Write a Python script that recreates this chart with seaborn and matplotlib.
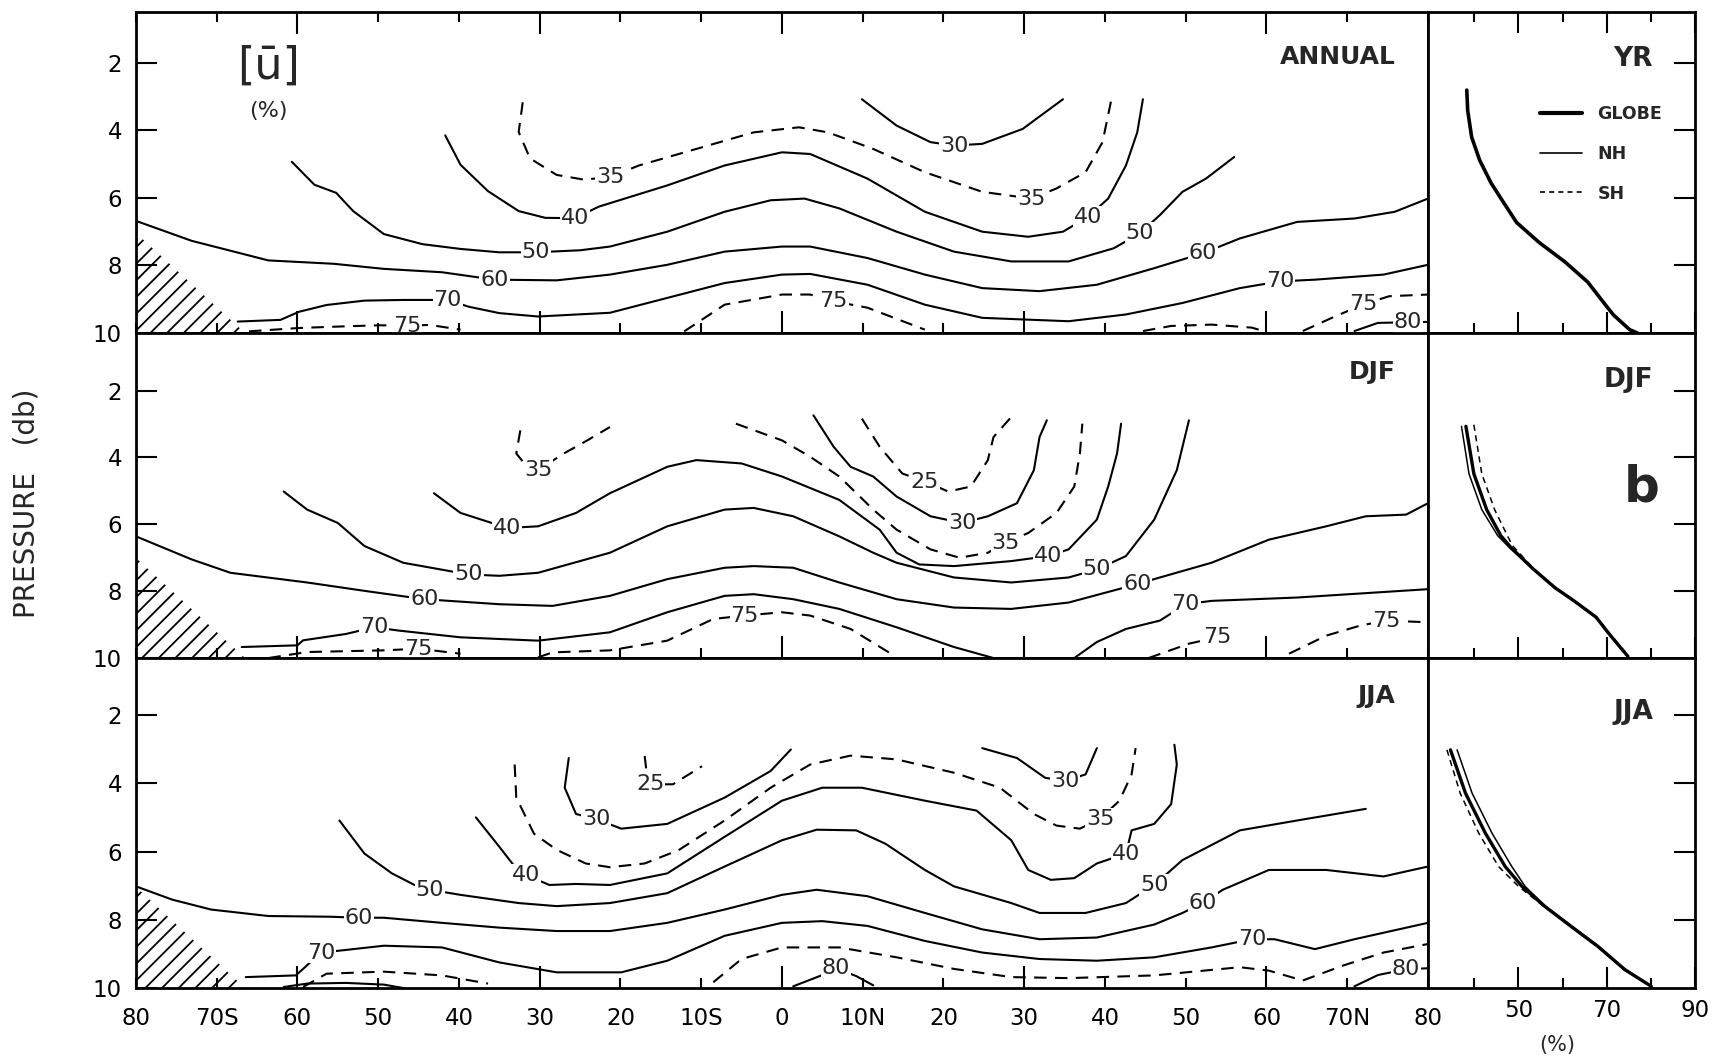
import matplotlib
matplotlib.use("Agg")
import matplotlib.pyplot as plt
from matplotlib.lines import Line2D
import seaborn as sns

# ---------------- DATA ----------------
LAT_MAJOR = [-60, -30, 0, 30, 60]
LAT_MAJOR_LABELS = ["60", "30", "0", "30", "60"]
LAT_MINOR = [-80, -70, -50, -40, -20, -10, 10, 20, 40, 50, 70, 80]
LAT_MINOR_LABELS = ["80", "70S", "50", "40", "20", "10S", "10N", "20", "40", "50", "70N", "80"]
P_TICKS = [2, 4, 6, 8, 10]
P_TICK_LABELS = ["2", "4", "6", "8", "10"]
PCT_MAJOR = [50, 70, 90]
PCT_MAJOR_LABELS = ["50", "70", "90"]
PCT_MINOR = [40, 60, 80]
PANEL_NAMES = ["ANNUAL", "DJF", "JJA"]
PROFILE_NAMES = ["YR", "DJF", "JJA"]

# no-data (ground) triangle
HATCH_LAT = [-80, -80, -66.5]
HATCH_P = [[7.05, 10, 10], [7.02, 10, 10], [7.05, 10, 10]]

# ---- ANNUAL contours ----
ANN_30_LAT = [9.9, 14.2, 18.4, 21.3, 24.8, 29.8, 34.8]
ANN_30_P = [3.08, 3.86, 4.35, 4.45, 4.40, 3.96, 3.08]
ANN_35_LAT = [-32.1, -32.6, -31.2, -27.9, -24.5, -21.3, -17.7, -10.6, -3.5, 2.1, 5.7, 11.3, 17.7, 24.8, 30.9, 34.0, 37.6, 39.7, 40.8]
ANN_35_P = [3.17, 4.05, 4.83, 5.32, 5.46, 5.38, 5.04, 4.55, 4.06, 3.91, 4.06, 4.55, 5.24, 5.82, 6.02, 5.72, 5.24, 4.35, 3.08]
ANN_40_LAT = [-41.7, -39.8, -36.4, -32.6, -29.3, -25.6, -22.7, -14.2, -7.1, 0, 3.5, 10.6, 17.7, 24.8, 30.5, 34.8, 37.9, 40.4, 42.6, 44.0, 44.7]
ANN_40_P = [4.15, 5.02, 5.80, 6.39, 6.59, 6.60, 6.26, 5.63, 5.04, 4.65, 4.70, 5.43, 6.41, 7.00, 7.15, 7.00, 6.56, 6.02, 5.04, 4.06, 3.08]
ANN_50_LAT = [-60.7, -57.9, -55.2, -53.1, -49.3, -44.5, -39.8, -35.0, -30.5, -25.0, -21.3, -14.2, -7.1, -1.4, 2.8, 7.1, 14.2, 21.3, 28.4, 35.5, 41.1, 44.3, 46.8, 49.6, 52.5, 56.0]
ANN_50_P = [4.93, 5.61, 5.85, 6.39, 7.07, 7.37, 7.51, 7.61, 7.61, 7.55, 7.44, 7.00, 6.41, 6.07, 6.02, 6.31, 7.00, 7.59, 7.88, 7.88, 7.49, 7.05, 6.51, 5.82, 5.43, 4.79]
ANN_60_LAT = [-80, -73.1, -63.6, -55.5, -49.3, -42.1, -35.6, -27.9, -21.3, -14.2, -7.1, 0, 3.5, 10.6, 17.7, 24.8, 31.9, 39.0, 46.1, 52.1, 56.7, 63.8, 70.9, 75.9, 80]
ANN_60_P = [6.68, 7.27, 7.85, 7.95, 8.10, 8.20, 8.42, 8.44, 8.27, 7.98, 7.59, 7.44, 7.44, 7.78, 8.27, 8.67, 8.76, 8.57, 8.08, 7.64, 7.20, 6.71, 6.61, 6.41, 6.02]
ANN_70_LAT = [-67.4, -62.1, -59.8, -56.4, -51.7, -46.9, -41.4, -38.8, -35.0, -30.2, -21.3, -14.2, -7.1, 0, 3.5, 10.6, 17.7, 24.8, 30.1, 35.5, 42.6, 49.6, 56.7, 61.7, 66.0, 74.5, 80]
ANN_70_P = [9.66, 9.61, 9.37, 9.17, 9.04, 9.02, 9.02, 9.22, 9.41, 9.51, 9.40, 8.96, 8.52, 8.27, 8.25, 8.57, 9.16, 9.55, 9.60, 9.65, 9.45, 9.11, 8.67, 8.47, 8.42, 8.27, 7.98]
ANN_75A_LAT = [-66.0, -59.8, -54.0, -49.8, -46.4, -43.6, -39.8]
ANN_75A_P = [9.95, 9.85, 9.80, 9.77, 9.78, 9.76, 9.90]
ANN_75B_LAT = [-12.1, -7.1, 0, 3.5, 6.4, 10.6, 17.7]
ANN_75B_P = [9.95, 9.16, 8.86, 8.86, 9.06, 9.25, 9.90]
ANN_75C_LAT = [44.7, 48.2, 53.2, 58.2, 59.6]
ANN_75C_P = [9.94, 9.79, 9.75, 9.84, 9.94]
ANN_75D_LAT = [64.5, 68.1, 72.0, 75.2, 80]
ANN_75D_P = [9.94, 9.55, 9.15, 8.91, 8.86]
ANN_80_LAT = [70.9, 73.8, 77.5, 80]
ANN_80_P = [9.94, 9.70, 9.68, 9.67]
ANN_LABEL_LAT = [21.3, -21.3, 30.9, -25.6, 37.9, -30.5, 44.3, -35.6, 52.1, -41.4, 61.7, -46.4, 6.4, 72.0, 77.5]
ANN_LABEL_P = [4.45, 5.38, 6.02, 6.60, 6.56, 7.61, 7.05, 8.42, 7.64, 9.02, 8.47, 9.78, 9.06, 9.15, 9.68]
ANN_LABEL_TXT = ["30", "35", "35", "40", "40", "50", "50", "60", "60", "70", "70", "75", "75", "75", "80"]

# ---- DJF contours ----
DJF_25_LAT = [9.9, 12.1, 14.9, 17.7, 20.6, 23.4, 25.5, 26.2, 28.4]
DJF_25_P = [2.84, 3.68, 4.48, 4.72, 5.02, 4.87, 4.08, 3.39, 2.79]
DJF_30_LAT = [3.9, 6.4, 8.5, 11.3, 14.2, 18.4, 22.3, 25.5, 29.1, 31.2, 31.9, 32.8]
DJF_30_P = [2.74, 3.68, 4.28, 4.57, 5.17, 5.76, 5.96, 5.76, 5.37, 4.38, 3.39, 2.89]
DJF_35A_LAT = [-32.4, -32.9, -31.5, -30.2, -27.0, -24.1, -21.3]
DJF_35A_P = [3.19, 3.88, 4.30, 4.38, 3.88, 3.49, 3.09]
DJF_35B_LAT = [-5.7, 0, 3.5, 7.1, 11.3, 14.2, 18.4, 22.0, 25.5, 27.7, 30.5, 34.0, 36.2, 36.9, 37.2]
DJF_35B_P = [2.99, 3.49, 3.98, 4.57, 5.56, 6.16, 6.75, 7.00, 6.85, 6.55, 6.26, 5.66, 4.87, 3.88, 2.99]
DJF_40_LAT = [-43.1, -39.8, -34.0, -30.2, -25.5, -21.3, -14.2, -10.6, -5.0, 0, 7.1, 12.1, 14.2, 17.0, 21.3, 28.4, 33.0, 35.5, 39.0, 40.4, 41.5, 42.0]
DJF_40_P = [5.07, 5.66, 6.11, 6.06, 5.66, 5.07, 4.28, 4.08, 4.18, 4.57, 5.27, 6.16, 6.85, 7.20, 7.25, 7.10, 6.95, 6.75, 5.86, 4.87, 3.88, 2.99]
DJF_50_LAT = [-61.7, -58.8, -55.0, -51.7, -46.9, -38.8, -35.0, -30.2, -21.3, -14.2, -7.1, -3.5, 1.4, 7.1, 11.3, 14.2, 21.3, 28.4, 35.5, 39.0, 42.6, 46.1, 48.9, 50.4]
DJF_50_P = [5.02, 5.56, 5.96, 6.65, 7.15, 7.50, 7.54, 7.45, 6.85, 6.06, 5.56, 5.51, 5.76, 6.36, 6.85, 7.15, 7.59, 7.74, 7.59, 7.35, 6.95, 5.86, 4.38, 2.89]
DJF_60_LAT = [-80, -73.1, -68.3, -58.8, -51.7, -44.3, -35.0, -28.4, -21.3, -14.2, -7.1, -3.5, 1.4, 7.1, 14.2, 21.3, 28.4, 35.5, 44.0, 46.8, 53.2, 60.3, 67.4, 72.3, 77.3, 80]
DJF_60_P = [6.36, 7.05, 7.45, 7.74, 7.99, 8.24, 8.39, 8.44, 8.14, 7.64, 7.30, 7.25, 7.30, 7.74, 8.24, 8.49, 8.53, 8.34, 7.79, 7.59, 7.15, 6.46, 6.06, 5.76, 5.71, 5.37]
DJF_70A_LAT = [-66.9, -60.0, -59.3, -54.0, -50.5, -47.4, -39.8, -30.2, -21.3, -14.2, -7.1, -3.5, 1.4, 7.1, 14.2, 21.3, 26.2]
DJF_70A_P = [9.67, 9.62, 9.47, 9.28, 9.08, 9.18, 9.38, 9.48, 9.23, 8.63, 8.14, 8.09, 8.24, 8.53, 9.08, 9.67, 10.0]
DJF_70B_LAT = [36.2, 39.0, 42.6, 46.8, 50.0, 53.2, 63.8, 80]
DJF_70B_P = [10.0, 9.52, 9.13, 8.88, 8.39, 8.29, 8.19, 7.94]
DJF_75A_LAT = [-63.6, -58.8, -49.3, -45.0, -39.8]
DJF_75A_P = [10.0, 9.82, 9.77, 9.72, 9.87]
DJF_75B_LAT = [-30.2, -28.4, -21.3, -14.2, -8.5, -4.6, 0, 3.5, 8.5, 13.5]
DJF_75B_P = [9.98, 9.83, 9.77, 9.48, 8.83, 8.73, 8.63, 8.73, 9.13, 9.87]
DJF_75C_LAT = [45.4, 50.4, 53.9]
DJF_75C_P = [10.0, 9.57, 9.38]
DJF_75D_LAT = [62.8, 67.4, 71.6, 74.8, 80]
DJF_75D_P = [9.87, 9.33, 9.03, 8.88, 8.93]
DJF_LABEL_LAT = [17.7, 22.3, 27.7, -30.2, -34.0, 33.0, -38.8, 39.0, -44.3, 44.0, -50.5, 50.0, -45.0, -4.6, 53.9, 74.8]
DJF_LABEL_P = [4.72, 5.96, 6.55, 4.38, 6.11, 6.95, 7.50, 7.35, 8.24, 7.79, 9.08, 8.39, 9.72, 8.73, 9.38, 8.88]
DJF_LABEL_TXT = ["25", "30", "35", "35", "40", "40", "50", "50", "60", "60", "70", "70", "75", "75", "75", "75"]

# ---- JJA contours ----
JJA_25_LAT = [-17.0, -16.8, -16.3, -13.5, -9.9]
JJA_25_P = [3.20, 3.60, 4.03, 4.03, 3.50]
JJA_30A_LAT = [-26.4, -26.9, -25.5, -23.0, -19.9, -14.2, -7.1, -1.4, 1.1]
JJA_30A_P = [3.26, 4.13, 4.90, 5.05, 5.33, 5.19, 4.42, 3.64, 3.01]
JJA_30B_LAT = [24.8, 29.1, 32.6, 35.1, 37.6, 39.0]
JJA_30B_P = [2.97, 3.26, 3.84, 3.93, 3.74, 2.97]
JJA_35_LAT = [-33.1, -32.9, -30.7, -27.9, -24.3, -21.3, -17.0, -12.8, -7.1, -1.4, 3.5, 8.5, 14.2, 21.3, 27.0, 31.2, 34.0, 36.9, 39.4, 41.8, 43.3, 43.8]
JJA_35_P = [3.45, 4.42, 5.48, 5.95, 6.35, 6.46, 6.35, 5.96, 5.09, 4.13, 3.45, 3.19, 3.30, 3.69, 4.13, 4.90, 5.24, 5.33, 5.04, 4.51, 3.74, 2.97]
JJA_40_LAT = [-37.9, -35.0, -33.1, -31.7, -28.8, -25.5, -21.3, -14.2, -7.1, 0, 5.0, 9.9, 17.7, 24.1, 28.4, 30.5, 33.3, 36.2, 39.0, 42.6, 43.3, 46.1, 48.2, 48.9, 48.6]
JJA_40_P = [5.00, 5.86, 6.44, 6.69, 6.98, 6.95, 6.98, 6.64, 5.57, 4.51, 4.13, 4.13, 4.51, 4.80, 5.67, 6.54, 6.83, 6.78, 6.35, 6.06, 5.38, 5.19, 4.61, 3.45, 2.87]
JJA_50_LAT = [-54.8, -51.7, -48.3, -45.5, -43.6, -39.8, -32.6, -27.9, -21.3, -14.2, -7.1, 0, 4.3, 9.2, 12.8, 17.7, 21.3, 28.4, 31.9, 37.6, 42.6, 46.1, 49.6, 56.7, 63.8, 72.3]
JJA_50_P = [5.09, 6.06, 6.64, 6.98, 7.12, 7.27, 7.51, 7.60, 7.51, 7.22, 6.44, 5.67, 5.36, 5.38, 5.77, 6.54, 7.02, 7.51, 7.80, 7.80, 7.51, 6.98, 6.25, 5.38, 5.09, 4.75]
JJA_60_LAT = [-80, -75.5, -70.7, -63.6, -56.0, -52.4, -49.3, -42.1, -35.0, -27.9, -21.3, -14.2, -7.1, 0, 4.3, 10.6, 17.7, 24.8, 31.9, 39.0, 46.1, 49.6, 52.1, 54.6, 60.3, 67.4, 74.5, 80]
JJA_60_P = [7.02, 7.41, 7.70, 7.89, 7.91, 7.94, 7.94, 8.09, 8.23, 8.33, 8.33, 8.09, 7.70, 7.27, 7.12, 7.31, 7.80, 8.28, 8.57, 8.52, 8.14, 7.80, 7.51, 7.12, 6.54, 6.54, 6.73, 6.44]
JJA_70_LAT = [-66.4, -60.2, -59.3, -57.1, -55.0, -49.3, -42.1, -35.0, -27.9, -19.9, -14.2, -7.1, 0, 5.0, 10.6, 17.7, 24.8, 31.9, 39.0, 46.1, 53.2, 58.2, 61.0, 66.0, 70.9, 80]
JJA_70_P = [9.68, 9.63, 9.44, 8.96, 8.91, 8.76, 8.81, 9.25, 9.54, 9.54, 9.20, 8.47, 8.09, 8.04, 8.18, 8.62, 8.96, 9.15, 9.20, 9.10, 8.81, 8.57, 8.57, 8.86, 8.57, 8.09]
JJA_75A_LAT = [-59.3, -56.4, -49.3, -42.1, -36.4]
JJA_75A_P = [9.97, 9.58, 9.52, 9.63, 9.87]
JJA_75B_LAT = [-8.5, -5.0, 0, 7.1, 14.2, 21.3, 28.4, 35.5, 46.1, 56.7, 60.3, 64.5, 69.5, 74.5, 80]
JJA_75B_P = [9.83, 9.15, 8.81, 8.81, 9.10, 9.44, 9.68, 9.71, 9.63, 9.39, 9.49, 9.78, 9.34, 8.96, 8.71]
JJA_80A_LAT = [-61.7, -58.8, -54.0, -49.3, -46.9]
JJA_80A_P = [9.97, 9.87, 9.85, 9.90, 10.0]
JJA_80B_LAT = [1.4, 5.0, 6.7, 9.2, 11.3]
JJA_80B_P = [9.95, 9.62, 9.42, 9.65, 9.92]
JJA_80C_LAT = [70.9, 73.8, 77.3, 80]
JJA_80C_P = [9.95, 9.62, 9.45, 9.42]
JJA_LABEL_LAT = [-16.3, -23.0, 35.1, 39.4, -31.7, 42.6, -43.6, 46.1, -52.4, 52.1, -57.1, 58.2, 6.7, 77.3]
JJA_LABEL_P = [4.03, 5.05, 3.93, 5.04, 6.69, 6.06, 7.12, 6.98, 7.94, 7.51, 8.96, 8.57, 9.42, 9.45]
JJA_LABEL_TXT = ["25", "30", "30", "35", "40", "40", "50", "50", "60", "60", "70", "70", "80", "80"]

# ---- hemispheric / global profiles (%) ----
YR_GLOBE_PCT = [38.3, 38.5, 39.4, 41.2, 43.8, 46.7, 49.6, 54.7, 60.6, 65.7, 68.6, 71.5, 75.2, 77.0]
YR_GLOBE_P = [2.81, 3.41, 4.20, 4.88, 5.56, 6.15, 6.73, 7.32, 7.90, 8.49, 8.98, 9.46, 9.90, 10.0]
DJF_GLOBE_PCT = [38.1, 39.9, 42.8, 46.0, 48.2, 53.2, 58.3, 62.6, 67.6, 70.5, 74.8]
DJF_GLOBE_P = [3.07, 4.49, 5.56, 6.34, 6.68, 7.32, 7.90, 8.29, 8.78, 9.27, 9.95]
DJF_NH_PCT = [37.1, 38.8, 41.7, 45.3, 48.2, 53.2, 58.3, 62.6, 67.6, 70.5, 74.8]
DJF_NH_P = [3.07, 4.49, 5.56, 6.34, 6.73, 7.32, 7.90, 8.29, 8.78, 9.27, 9.95]
DJF_SH_PCT = [39.9, 41.7, 44.6, 47.5, 48.6, 53.4, 58.5, 62.8, 67.8, 70.7, 75.0]
DJF_SH_P = [3.02, 4.49, 5.56, 6.34, 6.63, 7.32, 7.90, 8.29, 8.78, 9.27, 9.95]
JJA_GLOBE_PCT = [34.6, 38.0, 42.5, 47.0, 50.8, 56.0, 62.0, 68.0, 74.1, 80.1]
JJA_GLOBE_P = [3.02, 4.29, 5.46, 6.44, 7.02, 7.61, 8.20, 8.78, 9.46, 9.95]
JJA_NH_PCT = [36.1, 39.5, 44.0, 48.5, 51.5, 56.2, 62.2, 68.2, 74.3, 80.1]
JJA_NH_P = [3.02, 4.29, 5.46, 6.44, 7.02, 7.61, 8.20, 8.78, 9.46, 9.95]
JJA_SH_PCT = [33.8, 36.8, 41.0, 45.5, 50.0, 55.8, 61.8, 67.8, 73.9, 79.9]
JJA_SH_P = [3.02, 4.29, 5.46, 6.44, 7.02, 7.61, 8.20, 8.78, 9.46, 9.95]

# ---------------- STYLE ----------------
sns.set_theme(style="ticks", rc={
    "axes.edgecolor": "black", "axes.linewidth": 2.0,
    "xtick.color": "black", "ytick.color": "black",
    "hatch.linewidth": 1.3, "axes.facecolor": "white",
})
plt.rcParams["font.family"] = ["DejaVu Sans"]

SOLID = "-"
DASHED = (0, (6, 4))
LW = 1.5

CONTOURS = [
    [(ANN_30_LAT, ANN_30_P, SOLID), (ANN_35_LAT, ANN_35_P, DASHED), (ANN_40_LAT, ANN_40_P, SOLID),
     (ANN_50_LAT, ANN_50_P, SOLID), (ANN_60_LAT, ANN_60_P, SOLID), (ANN_70_LAT, ANN_70_P, SOLID),
     (ANN_75A_LAT, ANN_75A_P, DASHED), (ANN_75B_LAT, ANN_75B_P, DASHED), (ANN_75C_LAT, ANN_75C_P, DASHED),
     (ANN_75D_LAT, ANN_75D_P, DASHED), (ANN_80_LAT, ANN_80_P, SOLID)],
    [(DJF_25_LAT, DJF_25_P, DASHED), (DJF_30_LAT, DJF_30_P, SOLID), (DJF_35A_LAT, DJF_35A_P, DASHED),
     (DJF_35B_LAT, DJF_35B_P, DASHED), (DJF_40_LAT, DJF_40_P, SOLID), (DJF_50_LAT, DJF_50_P, SOLID),
     (DJF_60_LAT, DJF_60_P, SOLID), (DJF_70A_LAT, DJF_70A_P, SOLID), (DJF_70B_LAT, DJF_70B_P, SOLID),
     (DJF_75A_LAT, DJF_75A_P, DASHED), (DJF_75B_LAT, DJF_75B_P, DASHED), (DJF_75C_LAT, DJF_75C_P, DASHED),
     (DJF_75D_LAT, DJF_75D_P, DASHED)],
    [(JJA_25_LAT, JJA_25_P, DASHED), (JJA_30A_LAT, JJA_30A_P, SOLID), (JJA_30B_LAT, JJA_30B_P, SOLID),
     (JJA_35_LAT, JJA_35_P, DASHED), (JJA_40_LAT, JJA_40_P, SOLID), (JJA_50_LAT, JJA_50_P, SOLID),
     (JJA_60_LAT, JJA_60_P, SOLID), (JJA_70_LAT, JJA_70_P, SOLID), (JJA_75A_LAT, JJA_75A_P, DASHED),
     (JJA_75B_LAT, JJA_75B_P, DASHED), (JJA_80A_LAT, JJA_80A_P, SOLID), (JJA_80B_LAT, JJA_80B_P, SOLID),
     (JJA_80C_LAT, JJA_80C_P, SOLID)],
]
LABELS = [(ANN_LABEL_LAT, ANN_LABEL_P, ANN_LABEL_TXT),
          (DJF_LABEL_LAT, DJF_LABEL_P, DJF_LABEL_TXT),
          (JJA_LABEL_LAT, JJA_LABEL_P, JJA_LABEL_TXT)]
PROFILES = [
    [(YR_GLOBE_PCT, YR_GLOBE_P, 2.6, SOLID)],
    [(DJF_NH_PCT, DJF_NH_P, 1.1, SOLID), (DJF_SH_PCT, DJF_SH_P, 1.1, (0, (4, 3))), (DJF_GLOBE_PCT, DJF_GLOBE_P, 2.4, SOLID)],
    [(JJA_NH_PCT, JJA_NH_P, 1.1, SOLID), (JJA_SH_PCT, JJA_SH_P, 1.1, (0, (4, 3))), (JJA_GLOBE_PCT, JJA_GLOBE_P, 2.4, SOLID)],
]

# ---------------- LAYOUT ----------------
fig = plt.figure(figsize=(17.25, 10.6), dpi=100)
fig.patch.set_facecolor("white")
ROWS = [(0.6858, 0.3028, 0.5), (0.3792, 0.3066, 0.28), (0.0679, 0.3113, 0.33)]
MAIN_L, MAIN_W = 0.0788, 0.749
RIGHT_L, RIGHT_W = 0.8278, 0.1548
TITLE_P = [1.83, 1.45, 1.44]
PROF_TITLE_P = [1.89, 1.69, 1.91]
TICK_FS = 16.5
LABEL_FS = 16

for i, (bot, hgt, ptop) in enumerate(ROWS):
    axm = fig.add_axes([MAIN_L, bot, MAIN_W, hgt])
    axr = fig.add_axes([RIGHT_L, bot, RIGHT_W, hgt])

    # ---- main contour panel ----
    for lat, p, ls in CONTOURS[i]:
        sns.lineplot(x=lat, y=p, sort=False, estimator=None, color="black",
                     linewidth=LW, linestyle=ls, ax=axm, zorder=2)
    llat, lp, ltxt = LABELS[i]
    for x, y, t in zip(llat, lp, ltxt):
        axm.text(x, y, t, ha="center", va="center", fontsize=LABEL_FS, zorder=5,
                 bbox=dict(facecolor="white", edgecolor="none", pad=0.6))
    axm.fill(HATCH_LAT, HATCH_P[i], facecolor="none", edgecolor="black",
             hatch="//", linewidth=0, zorder=1)
    axm.set_xlim(-80, 80)
    axm.set_ylim(10, ptop)
    axm.set_xlabel("")
    axm.set_ylabel("")
    axm.set_xticks(LAT_MAJOR)
    axm.set_xticks(LAT_MINOR, minor=True)
    if i == 2:
        axm.set_xticklabels(LAT_MAJOR_LABELS, fontsize=TICK_FS)
        axm.set_xticklabels(LAT_MINOR_LABELS, minor=True, fontsize=TICK_FS)
    else:
        axm.set_xticklabels([])
        axm.set_xticklabels([], minor=True)
    axm.set_yticks(P_TICKS)
    axm.set_yticklabels(P_TICK_LABELS, fontsize=TICK_FS)
    axm.tick_params(axis="x", which="major", direction="in", length=16, width=1.5,
                    top=(i == 0), bottom=True, pad=14)
    axm.tick_params(axis="x", which="minor", direction="in", length=7, width=1.5,
                    top=(i == 0), bottom=True, pad=14)
    axm.tick_params(axis="y", which="major", direction="in", length=15, width=1.5,
                    left=True, right=False, pad=10)
    axm.text(76.0, TITLE_P[i], PANEL_NAMES[i], ha="right", va="center",
             fontsize=18, fontweight="bold")
    for s in axm.spines.values():
        s.set_linewidth(2.0)

    # ---- right profile panel ----
    for pct, p, lw, ls in PROFILES[i]:
        sns.lineplot(x=pct, y=p, sort=False, estimator=None, orient="y", color="black",
                     linewidth=lw, linestyle=ls, ax=axr)
    axr.set_xlim(29.5, 90)
    axr.set_ylim(10, ptop)
    axr.set_xlabel("")
    axr.set_ylabel("")
    axr.set_xticks(PCT_MAJOR)
    axr.set_xticks(PCT_MINOR, minor=True)
    if i == 2:
        axr.set_xticklabels(PCT_MAJOR_LABELS, fontsize=TICK_FS)
    else:
        axr.set_xticklabels([])
    axr.set_yticks(P_TICKS[:-1])
    axr.yaxis.tick_right()
    axr.tick_params(axis="y", direction="in", length=15, width=1.5,
                    labelright=False, labelleft=False, left=False, right=True)
    axr.tick_params(axis="x", which="major", direction="in", length=15, width=1.5,
                    top=(i == 0), bottom=True, pad=8)
    axr.tick_params(axis="x", which="minor", direction="in", length=7, width=1.5,
                    top=(i == 0), bottom=True)
    axr.text(80.5, PROF_TITLE_P[i], PROFILE_NAMES[i], ha="right", va="center",
             fontsize=19, fontweight="bold")
    for s in axr.spines.values():
        s.set_linewidth(2.0)

    if i == 0:
        axm.text(-63.6, 2.1, "[ū]", ha="center", va="center", fontsize=32)
        axm.text(-63.6, 3.42, "(%)", ha="center", va="center", fontsize=16)
        handles = [Line2D([], [], color="black", lw=3.0),
                   Line2D([], [], color="black", lw=1.2),
                   Line2D([], [], color="black", lw=1.2, linestyle=(0, (3, 2.5)))]
        leg = axr.legend(handles, ["GLOBE", "NH", "SH"], loc="upper left",
                         bbox_to_anchor=(0.42, 0.71), frameon=False, fontsize=12.5,
                         handlelength=2.4, handletextpad=0.9, labelspacing=1.25,
                         borderpad=0, borderaxespad=0)
        for t in leg.get_texts():
            t.set_fontweight("bold")
    if i == 1:
        axr.text(78.0, 4.89, "b", ha="center", va="center", fontsize=36, fontweight="bold")

fig.text(27 / 1725, 1 - 503 / 1060, "PRESSURE   (db)", rotation=90, ha="center",
         va="center", fontsize=20)
fig.text(1557 / 1725, 1 - 1045 / 1060, "(%)", ha="center", va="center", fontsize=15)

fig.savefig("out.png", dpi=100, facecolor="white")
